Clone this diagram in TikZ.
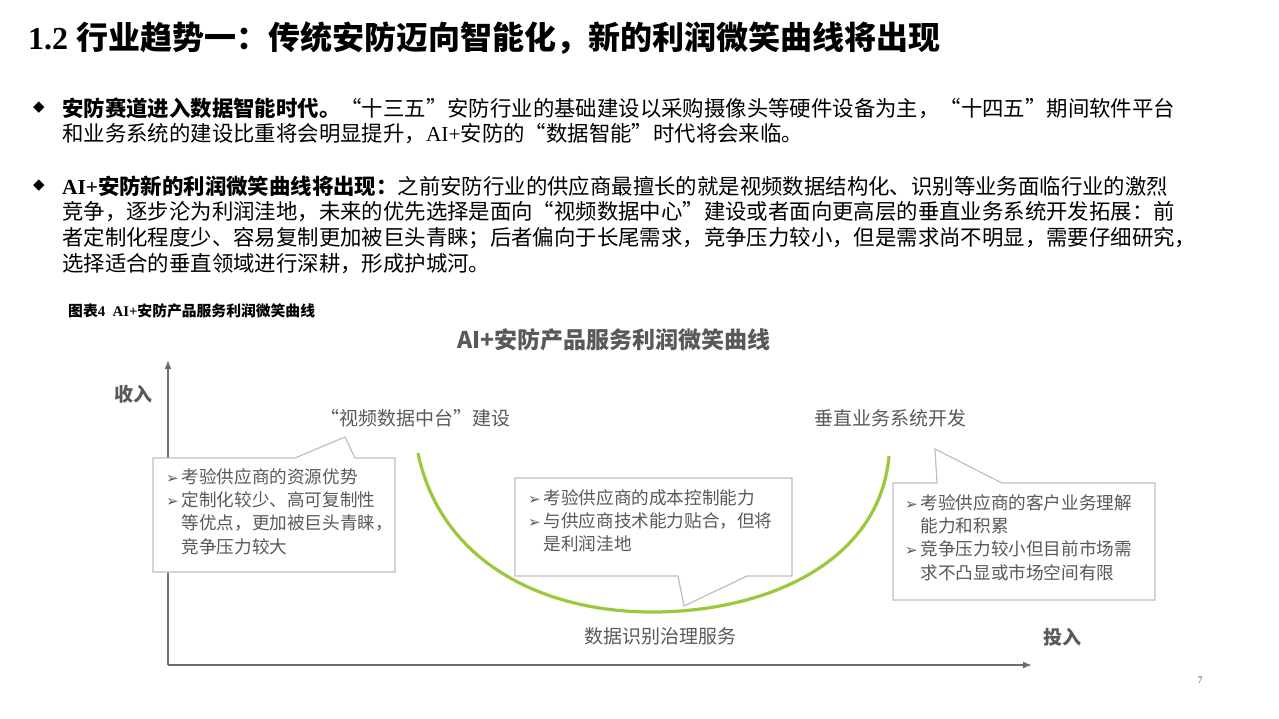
\documentclass[tikz,border=0pt]{standalone}
\usepackage{fontspec}
\usetikzlibrary{arrows.meta}
\setmainfont{Liberation Serif}
\newfontfamily\cjk{Noto Sans CJK SC}
\newfontfamily\djv{DejaVu Sans}
\newcommand{\arr}{{\djv\fontsize{15}{15}\selectfont ➢}\hspace{3pt}}
\newcommand{\arrsp}{\phantom{\arr}}
\definecolor{gtxt}{HTML}{595959}
\definecolor{gline}{HTML}{BFBFBF}
\definecolor{smile}{HTML}{9CC83B}
\definecolor{axisc}{HTML}{6E6E6E}
\begin{document}
\begin{tikzpicture}[x=1pt,y=-1pt,
  body/.style={anchor=west,inner sep=0,font=\fontsize{21.4}{21.4}\selectfont\cjk},
  boxt/.style={anchor=north west,inner sep=0,align=left,text=gtxt,font=\fontsize{17.6}{23.3}\selectfont\cjk},
  lbl/.style={inner sep=0,text=gtxt,font=\fontsize{19}{19}\selectfont\cjk},
  callout/.style={draw=gline,line width=1.2pt,fill=white}]
\useasboundingbox (0,0) rectangle (1279,719);
\node[anchor=west,inner sep=0,font=\fontsize{32}{32}\selectfont\bfseries] (title) at (28,38) {1.2 {\cjk\bfseries 行业趋势一：传统安防迈向智能化，新的利润微笑曲线将出现}};
% bullets
\node[inner sep=0,font=\fontsize{15}{15}\selectfont\djv] (d1) at (39,108) {◆};
\node[body] (b1a) at (62,108) {{\bfseries 安防赛道进入数据智能时代。}“十三五”安防行业的基础建设以采购摄像头等硬件设备为主，“十四五”期间软件平台};
\node[body] (b1b) at (62,134) {和业务系统的建设比重将会明显提升，{\rmfamily AI+}安防的“数据智能”时代将会来临。};
\node[inner sep=0,font=\fontsize{15}{15}\selectfont\djv] (d2) at (39,186) {◆};
\node[body] (b2a) at (62,186) {{\bfseries{\rmfamily AI+}安防新的利润微笑曲线将出现：}之前安防行业的供应商最擅长的就是视频数据结构化、识别等业务面临行业的激烈};
\node[body] (b2b) at (62,212) {竞争，逐步沦为利润洼地，未来的优先选择是面向“视频数据中心”建设或者面向更高层的垂直业务系统开发拓展：前};
\node[body] (b2c) at (62,238) {者定制化程度少、容易复制更加被巨头青睐；后者偏向于长尾需求，竞争压力较小，但是需求尚不明显，需要仔细研究，};
\node[body] (b2d) at (62,264) {选择适合的垂直领域进行深耕，形成护城河。};
\node[anchor=west,inner sep=0,font=\fontsize{14.8}{14.8}\selectfont\bfseries] (cap) at (68,311) {{\cjk\bfseries 图表}4\ \ AI+{\cjk\bfseries 安防产品服务利润微笑曲线}};
\node[inner sep=0,text=gtxt,font=\fontsize{23}{23}\selectfont\cjk\bfseries] (ct) at (614,340) {AI+安防产品服务利润微笑曲线};
% axes
\coordinate (o) at (168,665);
\coordinate (ytop) at (168,360);
\coordinate (xend) at (1032,665);
\draw[axisc,line width=1.5pt,-{Latex[length=9pt,width=7pt]}] (o) -- (ytop);
\draw[axisc,line width=1.5pt,-{Latex[length=9pt,width=7pt]}] (o) -- (xend);
\node[inner sep=0,text=gtxt,font=\fontsize{19}{19}\selectfont\cjk\bfseries] (yl) at (133,394) {收入};
\node[inner sep=0,text=gtxt,font=\fontsize{19}{19}\selectfont\cjk\bfseries] (xl) at (1062,637) {投入};
% curve
\draw[smile,line width=3.2pt] (418,453) .. controls (440,560) and (540,612) .. (652,612) .. controls (770,612) and (880,560) .. (889,456);
\node[lbl] (l1) at (415,418) {“视频数据中台”建设};
\node[lbl] (l2) at (890,418) {垂直业务系统开发};
\node[lbl] (l3) at (660,636) {数据识别治理服务};
% callouts
\draw[callout] (153,458) -- (295,458) -- (345,437) -- (355,458) -- (395,458) -- (395,572) -- (153,572) -- cycle;
\node[boxt] (t1) at (166,468) {\arr 考验供应商的资源优势\\\arr 定制化较少、高可复制性\\\arrsp 等优点，更加被巨头青睐，\\\arrsp 竞争压力较大};
\draw[callout] (515,478) -- (792,478) -- (792,576) -- (747,576) -- (684,606) -- (678,576) -- (515,576) -- cycle;
\node[boxt] (t2) at (528,489) {\arr 考验供应商的成本控制能力\\\arr 与供应商技术能力贴合，但将\\\arrsp 是利润洼地};
\draw[callout] (893,483) -- (937,483) -- (935,449) -- (1002,483) -- (1155,483) -- (1155,600) -- (893,600) -- cycle;
\node[boxt] (t3) at (905,494) {\arr 考验供应商的客户业务理解\\\arrsp 能力和积累\\\arr 竞争压力较小但目前市场需\\\arrsp 求不凸显或市场空间有限};
\node[inner sep=0,text=gtxt,font=\fontsize{10}{10}\selectfont] (pg) at (1200,680) {7};
\end{tikzpicture}
\end{document}
